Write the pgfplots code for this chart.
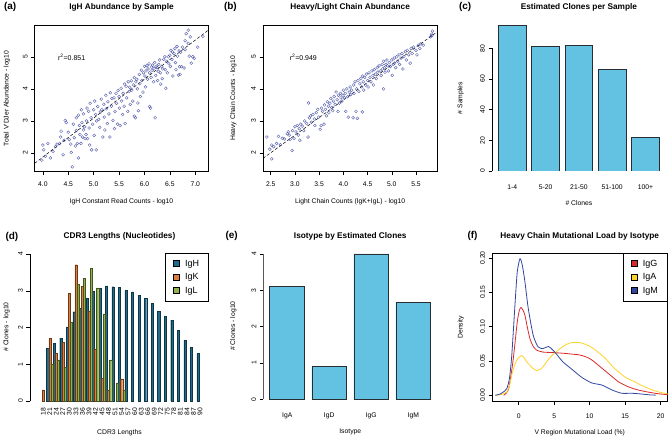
\documentclass[border=0pt]{standalone}
\usepackage{fontspec}
\setmainfont{Liberation Sans}
\usepackage{pgfplots}
\pgfplotsset{compat=1.18}
\definecolor{scat}{RGB}{60,70,160}
\definecolor{barblue}{RGB}{99,193,226}
\definecolor{bedge}{RGB}{40,45,50}
\definecolor{igh}{RGB}{32,108,140}
\definecolor{igk}{RGB}{217,112,45}
\definecolor{igl}{RGB}{134,170,60}
\definecolor{igG}{RGB}{220,40,40}
\definecolor{igA}{RGB}{255,210,40}
\definecolor{igM}{RGB}{50,70,160}
\pgfplotsset{
 rbase/.style={scale only axis, anchor=north west,
   font=\fontsize{6.8}{8}\selectfont,
   tick align=outside, major tick length=3.5bp,
   tick style={black, line width=0.5bp},
   /pgf/number format/assume math mode=true,
   axis line style={line width=0.6bp},
   title style={font=\bfseries\fontsize{8.3}{10}\selectfont, at={(0.5,1)}, anchor=center},
   yticklabel style={rotate=90, anchor=south},
   xtick pos=bottom, ytick pos=left},
 rbar/.style={rbase, axis line style={draw=none}, xtick style={draw=none}},
 scatpts/.style={only marks, mark=o, mark size=1.45bp, scat, mark options={line width=0.45bp, draw opacity=0.8}},
 rlegend/.style={legend cell align=left,
   legend style={at={(1,1)}, anchor=north east, draw=black, line width=0.5bp, fill=white,
     font=\fontsize{9}{10}\selectfont, inner xsep=8bp, inner ysep=5bp, row sep=2.4bp,
     nodes={inner sep=1.5bp, text height=6.6bp, text depth=1.6bp},
     /tikz/every odd column/.append style={column sep=4bp}},
   legend image code/.code={\draw[##1, draw=black, line width=0.4bp] (0bp,-2.4bp) rectangle (6bp,3.6bp);}},
}
\begin{document}
\begin{tikzpicture}
\path[use as bounding box] (0,0) rectangle (668bp,-438bp);
\tikzset{plab/.style={font=\bfseries\fontsize{10}{12}\selectfont, anchor=west}}
\node[plab] at (0.5bp,-6.7bp) {(a)};
\node[plab] at (220.5bp,-6.7bp) {(b)};
\node[plab] at (455.5bp,-6.7bp) {(c)};
\node[plab] at (2bp,-236.7bp) {(d)};
\node[plab] at (222bp,-235.7bp) {(e)};
\node[plab] at (464bp,-235.7bp) {(f)};

% (a)
\begin{axis}[rbase, at={(34.7bp,-25.3bp)}, width=173.6bp, height=146.4bp,
  xmin=3.84, xmax=7.256, ymin=1.42, ymax=5.98,
  xtick={4,4.5,5,5.5,6,6.5,7}, xticklabels={4.0,4.5,5.0,5.5,6.0,6.5,7.0},
  xticklabel style={yshift=-3bp},
  ytick={2,3,4,5},
  title={IgH Abundance by Sample}, title style={yshift=12bp},
  xlabel={IgH Constant Read Counts - log10}, ylabel={Total V'DJer Abundance - log10},
  xlabel style={at={(axis description cs:0.5,-0.205)}, anchor=center},
  ylabel style={at={(axis description cs:-0.161,0.5)}, anchor=center}]
\addplot[scatpts] table {
3.98 1.78
4.00 2.25
4.02 2.10
4.05 1.90
4.10 2.30
4.15 1.85
4.20 2.05
4.25 2.20
4.28 2.28
4.33 2.30
4.35 2.50
4.36 2.68
4.40 1.95
4.42 2.40
4.44 3.02
4.46 2.95
4.50 2.65
4.52 2.42
4.55 2.28
4.56 2.02
4.58 1.57
4.60 2.90
4.62 2.48
4.64 2.22
4.66 3.10
4.66 2.70
4.68 2.30
4.70 1.85
4.70 3.18
4.72 2.86
4.73 2.58
4.75 2.30
4.76 3.35
4.77 2.95
4.78 2.50
4.80 2.72
4.80 3.22
4.82 2.82
4.83 2.45
4.85 2.58
4.86 3.00
4.87 3.40
4.88 2.45
4.90 3.30
4.91 2.78
4.92 2.25
4.93 3.55
4.95 3.10
4.96 2.10
4.98 2.90
5.00 3.35
5.01 2.55
5.02 3.62
5.04 3.20
5.05 2.10
5.06 3.00
5.08 3.45
5.10 3.05
5.12 2.80
5.13 3.28
5.15 3.68
5.16 3.35
5.18 2.50
5.20 3.52
5.21 3.12
5.22 2.72
5.24 3.80
5.25 3.38
5.27 2.92
5.28 3.60
5.30 3.22
5.32 2.50
5.33 3.88
5.35 3.46
5.36 3.70
5.38 3.02
5.40 3.72
5.41 2.76
5.42 3.30
5.44 3.86
5.45 3.55
5.47 2.90
5.48 3.95
5.50 3.76
5.51 3.40
5.52 2.86
5.54 4.02
5.55 3.62
5.57 3.20
5.58 3.86
5.60 3.46
5.61 4.15
5.62 2.92
5.64 4.08
5.65 3.72
5.67 3.30
5.68 4.22
5.70 3.92
5.71 4.05
5.72 3.52
5.74 4.25
5.75 3.96
5.77 3.62
5.78 4.12
5.80 4.35
5.80 3.15
5.82 3.10
5.83 4.22
5.85 4.30
5.86 4.00
5.87 3.56
5.88 3.32
5.90 4.45
5.91 4.16
5.92 3.76
5.94 4.58
5.95 4.26
5.97 3.90
5.98 4.50
6.00 4.70
6.01 4.40
6.02 4.06
6.03 4.56
6.05 4.72
6.06 4.30
6.07 4.62
6.09 4.78
6.10 4.50
6.10 3.45
6.12 3.40
6.13 4.36
6.14 4.68
6.15 4.58
6.16 4.74
6.18 4.22
6.19 4.64
6.20 4.82
6.21 3.10
6.22 4.42
6.23 4.70
6.25 4.66
6.26 4.26
6.27 4.55
6.28 4.76
6.30 4.90
6.31 4.50
6.32 4.15
6.34 4.70
6.35 4.32
6.36 4.62
6.38 4.92
6.40 5.00
6.41 4.60
6.42 4.02
6.44 4.86
6.45 4.50
6.47 5.00
6.48 4.78
6.50 5.05
6.51 4.70
6.52 5.20
6.54 4.92
6.55 5.15
6.56 4.40
6.58 5.10
6.60 5.25
6.61 4.82
6.62 4.60
6.64 5.32
6.65 5.02
6.67 4.43
6.68 5.18
6.69 4.69
6.70 4.45
6.71 5.14
6.73 4.69
6.75 5.30
6.78 4.65
6.80 5.22
6.80 5.50
6.82 5.72
6.86 5.83
6.86 5.42
6.88 5.02
6.90 5.62
6.92 4.80
6.95 5.00
6.98 4.95
7.05 5.30
7.15 5.64
};
\addplot[black, line width=0.5bp, dash pattern=on 3bp off 2bp] coordinates {(3.84,1.68) (7.256,5.83)};
\node[anchor=west, font=\fontsize{7}{8}\selectfont] at (axis cs:4.23,4.98) {r\textsuperscript{2}=0.851};
\end{axis}

% (b)
\begin{axis}[rbase, at={(263bp,-25.3bp)}, width=174.3bp, height=146.4bp,
  xmin=2.34, xmax=5.94, ymin=1.42, ymax=5.98,
  xtick={2.5,3,3.5,4,4.5,5,5.5}, xticklabels={2.5,3.0,3.5,4.0,4.5,5.0,5.5},
  xticklabel style={yshift=-3bp},
  ytick={2,3,4,5},
  title={Heavy/Light Chain Abundance}, title style={yshift=12bp},
  xlabel={Light Chain Counts (IgK+IgL) - log10}, ylabel={Heavy Chain Counts - log10},
  xlabel style={at={(axis description cs:0.5,-0.205)}, anchor=center},
  ylabel style={at={(axis description cs:-0.170,0.5)}, anchor=center}]
\addplot[scatpts] table {
2.42 2.50
2.48 2.12
2.52 2.25
2.52 1.82
2.56 2.20
2.62 2.30
2.66 2.52
2.70 2.26
2.74 2.46
2.78 2.44
2.84 2.60
2.86 2.66
2.88 2.56
2.90 2.42
2.94 2.08
2.95 2.70
2.98 2.46
3.00 2.82
3.02 2.66
3.05 2.86
3.07 2.56
3.09 2.76
3.10 2.40
3.12 2.90
3.15 2.84
3.18 2.70
3.20 3.00
3.24 2.92
3.27 2.50
3.28 3.56
3.30 3.10
3.32 3.16
3.34 2.96
3.37 3.20
3.40 3.06
3.41 2.86
3.44 3.26
3.47 3.36
3.49 3.12
3.52 2.74
3.54 2.86
3.55 3.40
3.57 3.30
3.60 2.90
3.61 3.50
3.63 3.36
3.65 3.16
3.67 3.60
3.69 3.46
3.70 3.26
3.72 3.55
3.74 3.70
3.76 3.42
3.78 3.32
3.79 3.62
3.81 3.76
3.83 3.52
3.85 3.90
3.87 3.66
3.89 3.30
3.90 3.80
3.92 3.56
3.94 3.86
3.95 3.72
3.97 3.62
3.99 3.80
4.00 3.96
4.02 3.72
4.04 3.86
4.05 3.30
4.07 4.00
4.09 3.76
4.10 3.12
4.12 3.90
4.14 4.06
4.15 3.82
4.17 3.96
4.20 3.10
4.21 4.12
4.22 3.86
4.24 4.22
4.26 3.30
4.27 4.00
4.29 3.08
4.30 4.26
4.32 3.92
4.34 4.16
4.36 4.32
4.38 4.06
4.39 3.28
4.40 4.40
4.41 4.22
4.42 3.96
4.44 4.36
4.46 4.12
4.48 4.46
4.50 4.26
4.51 4.06
4.53 4.50
4.55 4.36
4.57 4.22
4.59 4.56
4.61 4.42
4.62 4.12
4.64 4.60
4.66 4.46
4.68 4.32
4.70 4.66
4.71 4.52
4.74 4.72
4.76 4.56
4.78 4.42
4.80 4.76
4.81 4.62
4.83 4.86
4.83 4.00
4.85 4.66
4.86 4.52
4.88 4.76
4.90 4.90
4.91 4.72
4.93 4.56
4.95 4.82
4.97 4.70
5.00 4.90
5.01 4.42
5.03 4.76
5.05 4.96
5.06 4.80
5.08 4.66
5.10 5.00
5.12 4.86
5.15 5.06
5.16 4.76
5.19 4.96
5.21 5.10
5.23 4.62
5.25 5.00
5.28 5.16
5.30 4.90
5.32 5.20
5.35 5.06
5.38 4.80
5.40 5.26
5.42 5.10
5.45 5.30
5.50 5.20
5.52 5.06
5.55 5.36
5.58 5.26
5.60 5.40
5.65 5.36
5.80 5.62
5.82 5.70
5.84 5.80
5.83 5.66
};
\addplot[black, line width=0.5bp, dash pattern=on 3bp off 2bp] coordinates {(2.34,1.835) (5.94,5.78)};
\node[anchor=west, font=\fontsize{7}{8}\selectfont] at (axis cs:2.82,4.98) {r\textsuperscript{2}=0.949};
\end{axis}

% (c)
\begin{axis}[rbar, ybar, at={(492bp,-25bp)}, width=173.8bp, height=146bp,
  xmin=0.39, xmax=5.61, ymin=0, ymax=95.2,
  xtick={1,2,3,4,5}, xticklabels={1-4,5-20,21-50,51-100,100+},
  xticklabel style={yshift=-6.5bp},
  ytick={0,20,40,60,80},
  title={Estimated Clones per Sample}, title style={yshift=12bp},
  xlabel={\# Clones}, ylabel={\# Samples},
  xlabel style={at={(axis description cs:0.5,-0.217)}, anchor=center},
  ylabel style={at={(axis description cs:-0.180,0.5)}, anchor=center}]
\addplot[fill=barblue, draw=bedge, line width=0.8bp, bar width=0.833] coordinates {(1,95) (2,81) (3,82) (4,66) (5,22)};
\draw[line width=0.5bp] (axis cs:0.39,0) -- (axis cs:0.39,80);
\end{axis}

% (d)
\begin{axis}[rbar, ybar, rlegend, at={(30bp,-252.9bp)}, width=178.9bp, height=148.1bp,
  xmin=11.9, xmax=94.1, ymin=0, ymax=4.03,
  xtick={18,21,...,90}, xticklabel style={rotate=90, anchor=east},
  ytick={0,1,2,3,4},
  title={CDR3 Lengths (Nucleotides)}, title style={yshift=10.5bp},
  xlabel={CDR3 Lengths}, ylabel={\# Clones - log10},
  xlabel style={at={(axis description cs:0.5,-0.211)}, anchor=center},
  ylabel style={at={(axis description cs:-0.130,0.5)}, anchor=center}]
\addplot[fill=igh, draw=igh!50!black, line width=0.3bp, bar width=0.97, bar shift=-0.97] coordinates {
(21,1.43) (24,1.57) (27,1.71) (30,2.02) (33,2.43) (36,2.53) (39,2.80) (42,2.98) (45,3.07) (48,3.13) (51,3.11) (54,3.09) (57,3.01) (60,2.97) (63,2.87) (66,2.80) (69,2.65) (72,2.44) (75,2.31) (78,2.20) (81,1.92) (84,1.65) (87,1.46) (90,1.29)};
\addplot[fill=igk, draw=igk!50!black, line width=0.3bp, fill opacity=0.9, bar width=0.97, bar shift=0] coordinates {
(18,0.30) (21,1.70) (24,1.30) (27,1.59) (30,2.93) (33,3.71) (36,3.12) (39,2.45) (42,1.42) (45,0.61) (48,0.30) (54,0.60)};
\addplot[fill=igl, draw=igl!50!black, line width=0.3bp, fill opacity=0.9, bar width=0.97, bar shift=0.97] coordinates {
(21,1.00) (24,1.12) (27,0.91) (30,2.14) (33,3.17) (36,3.34) (39,3.61) (42,3.08) (45,2.37) (48,1.12) (51,0.49) (54,0.30)};
\legend{IgH,IgK,IgL}
\draw[line width=0.5bp] (axis cs:11.9,0) -- (axis cs:11.9,4);
\end{axis}

% (e)
\begin{axis}[rbar, ybar, at={(263.3bp,-252.9bp)}, width=173.9bp, height=146.4bp,
  xmin=0.43, xmax=4.57, ymin=0, ymax=4.03,
  xtick={1,2,3,4}, xticklabels={IgA,IgD,IgG,IgM},
  xticklabel style={yshift=-6.5bp},
  ytick={0,1,2,3,4},
  title={Isotype by Estimated Clones}, title style={yshift=11bp},
  xlabel={Isotype}, ylabel={\# Clones - log10},
  xlabel style={at={(axis description cs:0.5,-0.225)}, anchor=center},
  ylabel style={at={(axis description cs:-0.1725,0.5)}, anchor=center}]
\addplot[fill=barblue, draw=bedge, line width=0.8bp, bar width=0.826] coordinates {(1,3.10) (2,0.90) (3,4.00) (4,2.66)};
\draw[line width=0.5bp] (axis cs:0.43,0) -- (axis cs:0.43,4);
\end{axis}

% (f)
\begin{axis}[rbase, rlegend, at={(492bp,-253bp)}, width=175.5bp, height=148.7bp,
  xmin=-3.76, xmax=20.96, ymin=-0.0093, ymax=0.2073,
  xtick={0,5,10,15,20}, xticklabel style={yshift=-5bp},
  ytick={0,0.05,0.1,0.15,0.2}, yticklabels={0.00,0.05,0.10,0.15,0.20},
  title={Heavy Chain Mutational Load by Isotype}, title style={yshift=11bp},
  xlabel={V Region Mutational Load (\%)}, ylabel={Density},
  xlabel style={at={(axis description cs:0.5,-0.206)}, anchor=center},
  ylabel style={at={(axis description cs:-0.178,0.5)}, anchor=center}]
\addplot[igG, line width=0.8bp, smooth, tension=0.4, forget plot] coordinates {
(-2.1,0) (-1.7,0.004) (-1.4,0.01) (-1.0,0.035) (-0.7,0.059) (-0.2,0.107) (0.1,0.124) (0.32,0.128) (0.6,0.124) (0.87,0.117) (1.2,0.1) (1.57,0.083) (2.0,0.072) (2.5,0.066) (3.4,0.063) (4.3,0.0625) (5.25,0.062) (6.6,0.061) (7.5,0.06) (8.5,0.059) (9.2,0.057) (9.9,0.054) (10.5,0.05) (11.2,0.044) (11.9,0.038) (12.6,0.032) (13.3,0.026) (14.0,0.020) (14.7,0.016) (15.4,0.0126) (16.1,0.01) (16.8,0.0078) (17.7,0.0058) (18.6,0.004) (19.9,0.002) (21,0.001)};
\addplot[igA, line width=0.8bp, smooth, tension=0.4, forget plot] coordinates {
(-3.3,0) (-2.5,0.001) (-2.0,0.003) (-1.66,0.005) (-1.3,0.014) (-0.97,0.03) (-0.6,0.043) (-0.28,0.051) (0.1,0.056) (0.41,0.058) (0.75,0.055) (1.1,0.049) (1.55,0.044) (2.03,0.039) (2.58,0.036) (3.2,0.039) (3.6,0.044) (4.1,0.051) (4.5,0.056) (5.0,0.061) (5.6,0.066) (6.2,0.071) (6.9,0.075) (7.6,0.077) (8.5,0.077) (9.2,0.075) (9.9,0.072) (10.4,0.069) (10.8,0.066) (11.5,0.06) (12.2,0.054) (12.8,0.047) (13.5,0.039) (14.2,0.033) (14.9,0.027) (15.6,0.023) (16.3,0.020) (17.0,0.016) (17.7,0.0126) (18.4,0.0096) (19.1,0.0068) (19.9,0.0044) (21,0.002)};
\addplot[igM, line width=0.8bp, smooth, tension=0.4, forget plot] coordinates {
(-3.3,0) (-2.6,0.002) (-2.0,0.006) (-1.66,0.010) (-1.3,0.025) (-0.97,0.059) (-0.5,0.136) (-0.2,0.18) (0.18,0.199) (0.5,0.19) (0.87,0.166) (1.34,0.127) (2.03,0.088) (2.7,0.071) (3.4,0.068) (4.2,0.071) (5.0,0.064) (6.2,0.049) (7.6,0.037) (8.9,0.026) (10.3,0.018) (11.7,0.015) (13.1,0.008) (14.5,0.003) (15.9,0.003) (17.2,0.002) (18.6,0.0005) (19.3,0.0003)};
\addlegendimage{fill=igG}\addlegendentry{IgG}
\addlegendimage{fill=igA}\addlegendentry{IgA}
\addlegendimage{fill=igM}\addlegendentry{IgM}
\end{axis}
\end{tikzpicture}
\end{document}
